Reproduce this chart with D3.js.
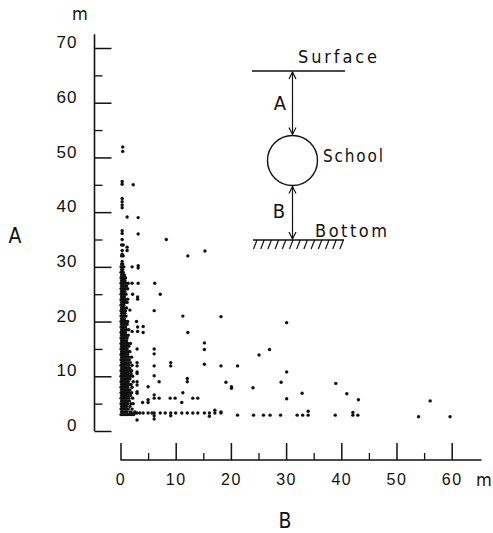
<!DOCTYPE html>
<html>
<head>
<meta charset="utf-8">
<script src="https://cdn.jsdelivr.net/npm/d3@7"></script>
<style>
  html, body { margin: 0; padding: 0; background: #fff; }
  svg { display: block; }
  text { font-family: 'DejaVu Sans Condensed', 'DejaVu Sans', sans-serif; font-stretch: condensed; fill: #111; }
</style>
</head>
<body>
<div id="chart"></div>
<script>
const xTicks = [0, 10, 20, 30, 40, 50, 60],
      xMinorTicks = [5, 15, 25, 35, 45, 55],
      yTicks = [0, 10, 20, 30, 40, 50, 60, 70],
      yMinorTicks = [5, 15, 25, 35, 45, 55, 65]

// dense cloud next to the bottom, one row per depth: [A, B, B, ...]
const clusterRows = [
  [3.0, 0.1, 0.4, 0.7, 1.0, 1.3, 1.6, 2.0, 2.4],
  [3.5, 0.2, 0.5, 0.9, 1.2, 1.8, 2.6],
  [4.0, 0.1, 0.3, 0.6, 1.0, 1.4, 2.1],
  [4.5, 0.2, 0.5, 0.8, 1.1, 1.7],
  [5.0, 0.1, 0.4, 0.7, 1.0, 1.3, 1.9, 2.3],
  [5.5, 0.2, 0.6, 0.9, 1.2, 1.6],
  [6.0, 0.1, 0.3, 0.5, 0.8, 1.1, 1.5, 2.2],
  [6.5, 0.2, 0.4, 0.7, 1.0, 1.3, 1.8],
  [7.0, 0.1, 0.3, 0.6, 0.9, 1.2, 1.5, 2.0],
  [7.5, 0.2, 0.5, 0.8, 1.1, 1.4, 1.7],
  [8.0, 0.1, 0.3, 0.6, 0.9, 1.3, 2.1],
  [8.5, 0.2, 0.4, 0.7, 1.0, 1.2, 1.6, 1.9],
  [9.0, 0.1, 0.3, 0.5, 0.8, 1.1, 1.4, 2.3],
  [9.5, 0.2, 0.4, 0.7, 1.0, 1.3, 1.7],
  [10.0, 0.1, 0.3, 0.6, 0.9, 1.2, 1.5, 1.8, 2.2],
  [10.5, 0.2, 0.5, 0.8, 1.1, 1.4, 1.9],
  [11.0, 0.1, 0.3, 0.6, 0.9, 1.2, 1.6, 2.0],
  [11.5, 0.2, 0.4, 0.7, 1.0, 1.3, 1.7],
  [12.0, 0.1, 0.3, 0.5, 0.8, 1.1, 1.5, 2.1],
  [12.5, 0.2, 0.4, 0.7, 1.0, 1.4, 1.8],
  [13.0, 0.1, 0.3, 0.6, 0.9, 1.2, 1.6],
  [13.5, 0.2, 0.5, 0.8, 1.1, 1.5, 2.0],
  [14.0, 0.1, 0.3, 0.6, 0.9, 1.3],
  [14.5, 0.2, 0.4, 0.7, 1.0, 1.4, 1.7],
  [15.0, 0.1, 0.3, 0.6, 0.9, 1.2],
  [15.5, 0.2, 0.5, 0.8, 1.1, 1.5],
  [16.0, 0.1, 0.3, 0.6, 1.0, 1.3, 1.8],
  [16.5, 0.2, 0.4, 0.7, 1.1],
  [17.0, 0.1, 0.3, 0.6, 0.9, 1.2],
  [17.5, 0.2, 0.5, 0.8, 1.0, 1.4],
  [18.0, 0.1, 0.3, 0.6, 0.9],
  [18.5, 0.2, 0.4, 0.7, 1.1, 1.5],
  [19.0, 0.1, 0.3, 0.6, 0.9],
  [19.5, 0.2, 0.5, 0.8, 1.2],
  [20.0, 0.1, 0.3, 0.6, 0.9, 1.3],
  [20.5, 0.2, 0.4, 0.7],
  [21.0, 0.1, 0.3, 0.6, 1.0],
  [21.5, 0.2, 0.5, 0.8],
  [22.0, 0.1, 0.3, 0.6, 0.9],
  [22.5, 0.2, 0.4, 0.7, 1.1],
  [23.0, 0.1, 0.3, 0.6],
  [23.5, 0.2, 0.5, 0.8, 1.2],
  [24.0, 0.1, 0.3, 0.6, 0.9],
  [24.5, 0.2, 0.4, 0.7],
  [25.0, 0.1, 0.3, 0.6, 1.0],
  [25.5, 0.2, 0.5, 0.8],
  [26.0, 0.1, 0.3, 0.6, 0.9, 1.3],
  [26.5, 0.2, 0.4, 0.7, 1.1],
  [27.0, 0.1, 0.3, 0.6, 1.0, 1.4],
  [27.5, 0.2, 0.5, 0.8],
  [28.0, 0.1, 0.3, 0.6, 0.9],
  [28.5, 0.2, 0.4, 0.7],
  [29.0, 0.1, 0.3, 0.5],
  [29.5, 0.2, 0.4],
  [30.0, 0.1, 0.3, 0.6],
  [30.5, 0.2, 0.4],
  [31.0, 0.3],
  [32.0, 0.2, 0.5],
  [33.0, 0.3],
  [34.0, 0.2],
  [35.0, 0.3]
]

// scattered schools: [B, A]
const scatterPoints = [
  [0.4, 51.9], [0.4, 51.1],
  [0.3, 45.6], [0.3, 45.1], [2.3, 45.0],
  [0.3, 42.5], [0.3, 41.9], [0.3, 41.3], [0.3, 40.8],
  [1.2, 39.1], [3.2, 39.0],
  [0.3, 36.6], [0.3, 36.1], [3.2, 36.0], [8.3, 35.0],
  [0.5, 34.0], [1.2, 33.6], [1.2, 33.0], [0.3, 32.3],
  [15.3, 32.9], [12.2, 32.0],
  [2.1, 30.0], [3.2, 30.2], [3.2, 29.8],
  [2.1, 27.0], [3.2, 27.0], [6.2, 27.0],
  [7.2, 25.0], [2.2, 25.0], [3.1, 24.5], [3.1, 24.1], [1.3, 24.1],
  [6.1, 22.0], [1.7, 22.1],
  [11.3, 21.0], [18.2, 20.9], [30.1, 19.8],
  [2.9, 20.0], [3.1, 19.0], [4.1, 19.1], [4.1, 18.0], [3.1, 18.2], [2.1, 18.2],
  [12.2, 18.0], [15.2, 16.1], [15.2, 14.9],
  [3.0, 15.0], [6.1, 15.0], [6.1, 14.1],
  [3.0, 12.5], [3.0, 11.9], [6.1, 11.9], [9.1, 12.5], [9.1, 11.9],
  [15.2, 12.2], [18.2, 11.9], [21.2, 11.9], [25.1, 13.9], [27.0, 14.9],
  [3.0, 10.8], [3.0, 10.5], [6.1, 10.1], [7.0, 9.0], [12.1, 9.6], [12.1, 9.0], [19.1, 8.9],
  [3.0, 9.0], [3.0, 8.4], [5.0, 8.1], [3.0, 7.2], [3.0, 6.9], [11.3, 7.0],
  [6.1, 6.6], [6.1, 6.0], [7.0, 6.0], [9.0, 6.0], [9.9, 6.0], [13.1, 6.0], [14.0, 6.0],
  [5.0, 5.7], [5.0, 5.2], [4.0, 5.2], [11.1, 5.2],
  [2.0, 3.3], [2.6, 3.3], [3.0, 3.3], [3.5, 3.3], [4.1, 3.3], [5.0, 3.3], [5.7, 3.3],
  [6.1, 3.3], [7.2, 3.3], [8.1, 3.3], [9.1, 3.3], [10.0, 3.3], [11.1, 3.3], [12.1, 3.3],
  [13.1, 3.3], [14.0, 3.3], [15.2, 3.3], [16.1, 3.3], [17.1, 3.3], [18.2, 3.3],
  [6.1, 2.8], [9.1, 2.8], [16.1, 2.7], [3.0, 2.0], [6.1, 2.2], [17.1, 3.8],
  [20.1, 8.1], [20.1, 7.8], [24.0, 7.9], [30.1, 10.8], [29.1, 8.9], [32.9, 6.9], [30.1, 5.9],
  [39.0, 8.7], [41.0, 6.8], [43.1, 5.7],
  [21.2, 2.9], [24.1, 2.9], [25.9, 2.9], [27.1, 2.9], [29.0, 2.9], [32.0, 2.9],
  [33.0, 2.9], [34.0, 2.9], [38.9, 2.9], [42.1, 2.9], [43.0, 2.9],
  [18.2, 3.5], [34.0, 3.6], [42.1, 3.4],
  [56.1, 5.5], [54.0, 2.6], [59.7, 2.6]
]

const WIDTH = 493, HEIGHT = 533,
      DIGIT_FONT = "'Liberation Sans', Arimo, sans-serif"

const buildChart = () => {
  const points = []
  clusterRows.forEach(([a, ...bs]) => bs.forEach(b => points.push({ b, a })))
  scatterPoints.forEach(([b, a]) => points.push({ b, a }))

  const x = d3.scaleLinear().domain([0, 60]).range([120.5, 451.7]),
        y = d3.scaleLinear().domain([0, 70]).range([431, 48])

  const svg = d3.select('#chart')
    .append('svg')
    .attr('width', WIDTH)
    .attr('height', HEIGHT)

  // y axis: ticks point inward, labels sit left
  const yAxisX = 94.5
  svg.append('line')
    .attr('x1', yAxisX).attr('x2', yAxisX)
    .attr('y1', y(0)).attr('y2', y(72.5))
    .attr('stroke', '#111').attr('stroke-width', 1.6)
  svg.append('g')
    .attr('transform', `translate(${yAxisX},0)`)
    .call(d3.axisRight(y).tickValues(yTicks).tickSize(17).tickFormat(''))
    .call(g => g.select('.domain').remove())
    .call(g => g.selectAll('line').attr('stroke', '#111').attr('stroke-width', 1.5))
  svg.append('g')
    .attr('transform', `translate(${yAxisX},0)`)
    .call(d3.axisRight(y).tickValues(yMinorTicks).tickSize(8).tickFormat(''))
    .call(g => g.select('.domain').remove())
    .call(g => g.selectAll('line').attr('stroke', '#111').attr('stroke-width', 1.3))
  svg.append('g')
    .attr('transform', `translate(${yAxisX},0)`)
    .call(d3.axisLeft(y).tickValues(yTicks).tickSize(0).tickPadding(17))
    .call(g => g.select('.domain').remove())
    .call(g => g.selectAll('text')
      .attr('dy', '-0.02em')
      .style('font-family', DIGIT_FONT)
      .style('font-stretch', 'normal')
      .style('font-size', '17px')
      .style('letter-spacing', '1px')
      .attr('fill', '#111'))

  // x axis: a separate baseline below the plot, ticks pointing up
  const xAxisY = 460
  svg.append('line')
    .attr('x1', x(0)).attr('x2', x(65.4))
    .attr('y1', xAxisY).attr('y2', xAxisY)
    .attr('stroke', '#111').attr('stroke-width', 1.6)
  svg.append('g')
    .attr('transform', `translate(0,${xAxisY})`)
    .call(d3.axisTop(x).tickValues(xTicks).tickSize(17).tickFormat(''))
    .call(g => g.select('.domain').remove())
    .call(g => g.selectAll('line').attr('stroke', '#111').attr('stroke-width', 1.5))
  svg.append('g')
    .attr('transform', `translate(0,${xAxisY})`)
    .call(d3.axisTop(x).tickValues(xMinorTicks).tickSize(7).tickFormat(''))
    .call(g => g.select('.domain').remove())
    .call(g => g.selectAll('line').attr('stroke', '#111').attr('stroke-width', 1.3))
  svg.append('g')
    .attr('transform', `translate(0,${xAxisY})`)
    .call(d3.axisBottom(x).tickValues(xTicks).tickSize(0).tickPadding(14))
    .call(g => g.select('.domain').remove())
    .call(g => g.selectAll('text')
      .style('font-family', DIGIT_FONT)
      .style('font-stretch', 'normal')
      .style('font-size', '16px')
      .style('letter-spacing', '1.5px')
      .attr('fill', '#111'))

  // unit and axis names
  svg.append('text').attr('x', 80).attr('y', 20).attr('text-anchor', 'middle')
    .style('font-size', '18px').text('m')
  svg.append('text').attr('x', 484).attr('y', 486).attr('text-anchor', 'middle')
    .style('font-size', '18px').text('m')
  svg.append('text').attr('x', 15).attr('y', 243).attr('text-anchor', 'middle')
    .style('font-size', '21px').text('A')
  svg.append('text').attr('x', 285).attr('y', 528).attr('text-anchor', 'middle')
    .style('font-size', '21px').text('B')

  // schools
  svg.append('g')
    .selectAll('circle')
    .data(points)
    .join('circle')
    .attr('cx', d => x(d.b))
    .attr('cy', d => y(d.a))
    .attr('r', 1.7)
    .attr('fill', '#111')

  buildInset(svg)
}

const buildInset = (svg) => {
  const g = svg.append('g').attr('class', 'inset')
  const stroke = (sel, w = 1.4) => sel.attr('stroke', '#111').attr('stroke-width', w).attr('fill', 'none')
  const cx = 292.5, cy = 160.5, r = 25, surfaceY = 71, bottomY = 240

  stroke(g.append('line').attr('x1', 252).attr('x2', 345).attr('y1', surfaceY).attr('y2', surfaceY))
  stroke(g.append('line').attr('x1', 253).attr('x2', 344).attr('y1', bottomY).attr('y2', bottomY))
  stroke(g.append('circle').attr('cx', cx).attr('cy', cy).attr('r', r))

  const arrow = (y1, y2) => {
    stroke(g.append('line').attr('x1', cx).attr('x2', cx).attr('y1', y1).attr('y2', y2), 1.2)
    stroke(g.append('path').attr('d', `M${cx - 3.5},${y1 + 7}L${cx},${y1}L${cx + 3.5},${y1 + 7}`), 1.2)
    stroke(g.append('path').attr('d', `M${cx - 3.5},${y2 - 7}L${cx},${y2}L${cx + 3.5},${y2 - 7}`), 1.2)
  }
  arrow(surfaceY + 1, cy - r - 1)
  arrow(cy + r + 1, bottomY - 1)

  // hatching under the bottom line
  const hatch = d3.range(257, 345, 7.2)
  g.selectAll('line.hatch')
    .data(hatch)
    .join('line')
    .attr('class', 'hatch')
    .attr('x1', d => d).attr('y1', bottomY)
    .attr('x2', d => d - 3.5).attr('y2', bottomY + 9)
    .attr('stroke', '#111').attr('stroke-width', 1.2)

  // narrow, spaced lettering: squeeze each word into the width it has in the figure
  const label = (txt, x, y, width, size = 19) => {
    const t = g.append('text')
      .attr('x', x).attr('y', y)
      .style('font-size', size + 'px')
      .text(txt)
    if (width) t.attr('textLength', width).attr('lengthAdjust', 'spacing')
    else t.attr('text-anchor', 'middle')
    return t
  }
  label('Surface', 298, 63, 79, 18)
  label('A', 280, 110, null, 20)
  label('School', 323, 162, 60, 17)
  label('B', 279, 218, null, 20)
  label('Bottom', 315, 237, 72, 18)
}

document.addEventListener('DOMContentLoaded', buildChart)
</script>
</body>
</html>
